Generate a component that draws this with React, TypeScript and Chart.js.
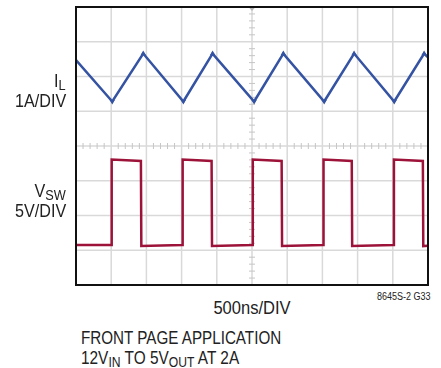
import React, { useEffect, useRef } from "react";
import { Chart, registerables } from "chart.js";

Chart.register(...registerables);

// ---- Data (time in ns, 500 ns/div; IL in A, 1 A/div; VSW in V, 5 V/div) ----
const ilTimeNs = [0, 515, 955, 1525, 1940, 2530, 2945, 3525, 3950, 4520, 4945, 5000];
const ilAmps = [2.47, 1.28, 2.66, 1.28, 2.66, 1.28, 2.66, 1.28, 2.66, 1.28, 2.66, 2.55];

const vswTimeNs = [
  0, 503, 507, 922, 928, 1511, 1515, 1926, 1932, 2507, 2511, 2921, 2927, 3512, 3516, 3917,
  3923, 4512, 4516, 4927, 4933, 5000,
];
const vswVolts = [
  0, 0, 12.3, 12.1, -0.15, 0, 12.3, 12.1, -0.15, 0, 12.3, 12.1, -0.15, 0, 12.3, 12.1, -0.15, 0,
  12.3, 12.1, -0.15, -0.12,
];

const timePerDivNs = 500;
const divisionsX = 10;
const divisionsY = 8;
const voltsPerDiv = 5;
const ampsPerDiv = 1;
const vswAxisMin = -5.75;
const ilAxisMin = -4;

const BLUE = "#3553a3";
const RED = "#9c1238";

const graticule = {
  id: "graticule",
  beforeDatasetsDraw(chart: any) {
    const { ctx, chartArea: a, scales } = chart;
    const x = scales.x;
    const yv = scales.yV;
    ctx.save();
    ctx.strokeStyle = "#d9d9d9";
    ctx.lineWidth = 1.5;
    const line = (x1: number, y1: number, x2: number, y2: number) => {
      ctx.beginPath();
      ctx.moveTo(x1, y1);
      ctx.lineTo(x2, y2);
      ctx.stroke();
    };
    for (let i = 1; i < divisionsX; i++) {
      const px = x.getPixelForValue(i * timePerDivNs);
      line(px, a.top, px, a.bottom);
    }
    for (let j = 1; j < divisionsY; j++) {
      const py = yv.getPixelForValue(vswAxisMin + j * voltsPerDiv);
      line(a.left, py, a.right, py);
    }
    const cx = x.getPixelForValue((divisionsX / 2) * timePerDivNs);
    const cy = yv.getPixelForValue(vswAxisMin + (divisionsY / 2) * voltsPerDiv);
    ctx.strokeStyle = "#c6c6c6";
    ctx.lineWidth = 1;
    for (let k = 1; k < divisionsX * 5; k++) {
      if (k % 5 === 0) continue;
      const px = x.getPixelForValue((k * timePerDivNs) / 5);
      line(px, cy - 3, px, cy + 3);
    }
    for (let k = 1; k < divisionsY * 5; k++) {
      if (k % 5 === 0) continue;
      const py = yv.getPixelForValue(vswAxisMin + (k * voltsPerDiv) / 5);
      line(cx - 3, py, cx + 3, py);
    }
    // trigger marker
    ctx.fillStyle = "#b8b8b8";
    ctx.beginPath();
    ctx.moveTo(cx - 3.5, a.top);
    ctx.lineTo(cx + 3.5, a.top);
    ctx.lineTo(cx, a.top + 4);
    ctx.closePath();
    ctx.fill();
    ctx.restore();
  },
  afterDatasetsDraw(chart: any) {
    const { ctx, chartArea: a } = chart;
    ctx.save();
    ctx.strokeStyle = "#111111";
    ctx.lineWidth = 2;
    ctx.strokeRect(a.left, a.top, a.right - a.left, a.bottom - a.top);
    ctx.restore();
  },
};

const font = '"Liberation Sans", Arial, Helvetica, sans-serif';

const baseText: React.CSSProperties = {
  position: "absolute",
  fontFamily: font,
  fontSize: 19,
  lineHeight: "19px",
  color: "#222",
  whiteSpace: "nowrap",
};

const sub = (t: string, size = 15, shift = 3): React.ReactNode => (
  <span style={{ fontSize: size, position: "relative", top: shift }}>{t}</span>
);

export default function App() {
  const ref = useRef<HTMLCanvasElement | null>(null);

  useEffect(() => {
    if (!ref.current) return;
    const peakFlags = ilAmps.map((v, i) => (i === 0 || i === ilAmps.length - 1 ? 0 : 1));
    const chart = new Chart(ref.current, {
      type: "line",
      data: {
        datasets: [
          {
            label: "IL",
            data: ilTimeNs.map((t, i) => ({ x: t, y: ilAmps[i] })),
            yAxisID: "yI",
            borderColor: BLUE,
            backgroundColor: BLUE,
            borderWidth: 2.5,
            pointRadius: peakFlags.map((f) => (f ? 3 : 0)),
            pointStyle: "triangle",
            pointRotation: ilAmps.map((v, i) => (i > 0 && v < ilAmps[i - 1] ? 180 : 0)),
            pointBorderWidth: 0,
            pointBackgroundColor: BLUE,
            tension: 0,
          },
          {
            label: "VSW",
            data: vswTimeNs.map((t, i) => ({ x: t, y: vswVolts[i] })),
            yAxisID: "yV",
            borderColor: RED,
            borderWidth: 2.5,
            pointRadius: 0,
            tension: 0,
          },
        ],
      },
      options: {
        responsive: false,
        animation: false,
        events: [],
        layout: { padding: { left: 76, right: 13, top: 7, bottom: 5 } },
        plugins: { legend: { display: false }, tooltip: { enabled: false } },
        scales: {
          x: { type: "linear", min: 0, max: divisionsX * timePerDivNs, display: false },
          yI: {
            type: "linear",
            min: ilAxisMin,
            max: ilAxisMin + divisionsY * ampsPerDiv,
            display: false,
          },
          yV: {
            type: "linear",
            min: vswAxisMin,
            max: vswAxisMin + divisionsY * voltsPerDiv,
            display: false,
          },
        },
      },
      plugins: [graticule],
    });
    return () => chart.destroy();
  }, []);

  return (
    <div style={{ position: "absolute", left: 0, top: 0, width: 441, height: 368, background: "#fff" }}>
      <canvas
        ref={ref}
        width={441}
        height={290}
        style={{ position: "absolute", left: 0, top: 0, width: 441, height: 290 }}
      />
      <div style={{ ...baseText, right: 441 - 66, top: 70.5, transform: "scaleX(0.85)", transformOrigin: "right" }}>
        I{sub("L")}
      </div>
      <div style={{ ...baseText, right: 441 - 66, top: 90.5, transform: "scaleX(0.85)", transformOrigin: "right" }}>
        1A/DIV
      </div>
      <div style={{ ...baseText, right: 441 - 66, top: 181, transform: "scaleX(0.85)", transformOrigin: "right" }}>
        V{sub("SW")}
      </div>
      <div style={{ ...baseText, right: 441 - 66, top: 201, transform: "scaleX(0.85)", transformOrigin: "right" }}>
        5V/DIV
      </div>
      <div style={{ ...baseText, left: 252, top: 298, transform: "translateX(-50%) scaleX(0.87)", transformOrigin: "center" }}>
        500ns/DIV
      </div>
      <div style={{ ...baseText, fontSize: 10, lineHeight: "10px", right: 441 - 430, top: 292, transform: "scaleX(0.9)", transformOrigin: "right" }}>
        8645S-2 G33
      </div>
      <div style={{ ...baseText, left: 81, top: 327.5, transform: "scaleX(0.8)", transformOrigin: "left" }}>
        FRONT PAGE APPLICATION
      </div>
      <div style={{ ...baseText, left: 81, top: 348, transform: "scaleX(0.81)", transformOrigin: "left" }}>
        12V{sub("IN")} TO 5V{sub("OUT")} AT 2A
      </div>
    </div>
  );
}
